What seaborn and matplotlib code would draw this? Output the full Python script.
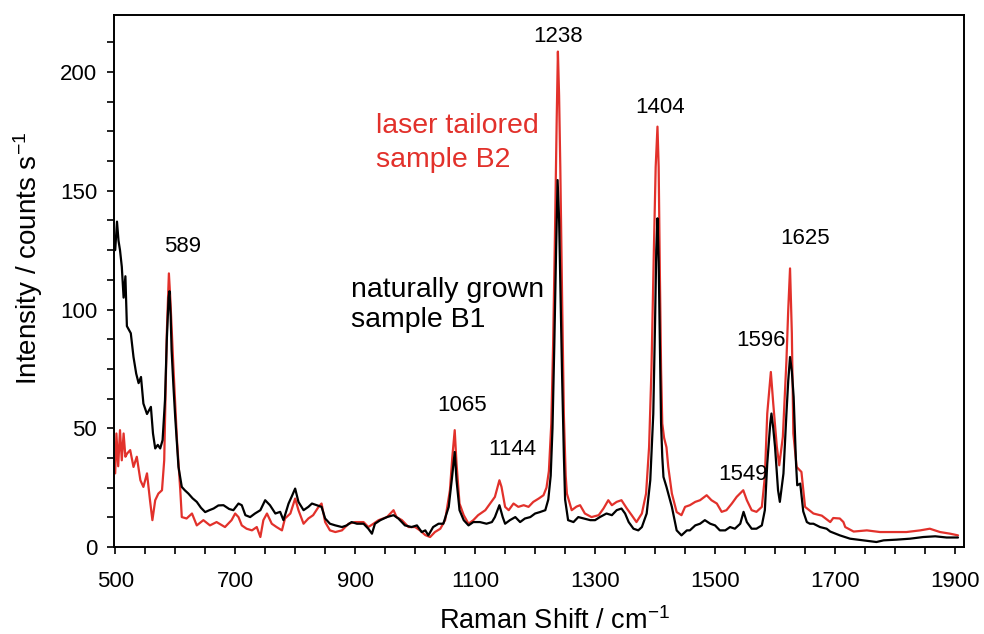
import matplotlib
matplotlib.use("Agg")
import matplotlib.pyplot as plt
from matplotlib.ticker import MultipleLocator, FixedLocator
import seaborn as sns
import pandas as pd

# ---------------- data ----------------
b1_shift = [500, 503, 505.5, 508, 511, 514, 517, 519.5, 526, 530.5, 535, 539, 543, 547, 553, 559.5,
            563, 566.7, 571, 575, 579, 583, 586, 589, 590.5, 592.5, 594, 597, 600, 605.5, 611, 616,
            622, 629, 636, 643, 650, 657, 664, 672, 680.5, 690, 697, 705.5, 711, 717, 725, 733, 742,
            750, 758, 767, 775, 780.5, 789, 794, 800, 805.5, 814, 822, 828, 836, 844, 850, 858, 867,
            878, 886, 894, 903, 914, 922, 928, 933, 942, 953, 964, 972, 983, 994, 1003, 1011, 1017,
            1022, 1030, 1039, 1047, 1056, 1061, 1066, 1069, 1074, 1081, 1089, 1097, 1108, 1119, 1128,
            1133, 1140.5, 1146, 1150, 1158, 1167, 1175, 1183, 1192, 1200, 1208, 1217, 1222, 1226, 1229,
            1232, 1235, 1237.5, 1240, 1242, 1245, 1248, 1250, 1255, 1264, 1272, 1281, 1292, 1300, 1308,
            1319, 1328, 1336, 1344, 1350, 1356, 1364, 1372, 1378, 1386, 1392, 1397, 1400, 1402, 1404,
            1406, 1408, 1410, 1412, 1414, 1419, 1428, 1436, 1444, 1453, 1458, 1467, 1475, 1483, 1492,
            1500, 1508, 1517, 1525, 1533, 1542, 1547.5, 1553, 1561, 1569, 1578, 1583, 1587, 1592, 1594,
            1597, 1600, 1605, 1608, 1614, 1619, 1622, 1625, 1628, 1631, 1635, 1637, 1642, 1647, 1653,
            1658, 1664, 1675, 1686, 1692, 1708, 1725, 1747, 1769, 1781, 1803, 1825, 1847, 1867, 1886,
            1905]
b1_intensity = [125, 137, 129, 125, 118, 105, 114, 93, 90, 80, 73, 69, 71.6, 60.4, 56, 59,
                47.8, 41.5, 43, 41.5, 45, 61.8, 87, 105, 107.7, 97, 83, 68, 54.8, 33.7, 25.3, 23.9,
                22.5, 20.5, 19, 16.5, 14.7, 15.5, 16.2, 17.5, 17.6, 16, 15.5, 18.3, 17.6, 13.4, 12.6, 14.1, 15.5,
                19.7, 17.6, 14.1, 14.8, 11.3, 18.3, 21.1, 24.6, 19, 15.5, 16.9, 18.3, 17.6, 16.9, 12, 9.8, 9.1,
                8.4, 9.1, 10.5, 9.8, 9.8, 7.7, 5.6, 9.8, 11.3, 12.6, 13.4, 12, 9.1, 8.4, 9.1, 6.3, 7,
                4.9, 8.4, 9.8, 9.8, 16.9, 28.1, 40, 28.1, 15.5, 11.3, 9.1, 10.5, 10.5, 9.8, 10.5,
                12.6, 17.6, 12.6, 9.8, 11.3, 12.6, 10.5, 12, 12.6, 14.1, 14.7, 15.5, 20, 30, 50,
                85, 125, 154.5, 138, 112, 72, 38, 20, 11.3, 10.5, 12.6, 12, 11.3, 11.3, 12.6,
                14.1, 13.4, 15.5, 16.2, 14.1, 10.5, 7.7, 7, 8.4, 14.1, 28.1, 56, 95, 125, 138.4,
                120, 85, 52, 38, 29.5, 25.3, 16.9, 7, 4.9, 7, 7, 9.1, 9.8, 11.3, 9.8,
                9.1, 7, 7, 8.4, 7.7, 9.8, 14.8, 10.5, 7.7, 7.7, 9.1, 15.5, 35.1, 52, 56.2,
                50, 42.1, 23.9, 19, 30.9, 56.2, 70, 80, 74, 63.2, 35.1, 26, 26.7, 15, 10.5,
                9.8, 9.8, 8.4, 7.7, 6.5, 4.9, 3.5, 2.8, 2.1, 2.8, 3.1, 3.5, 4.2, 4.5, 4,
                4]

b2_shift = [500, 502, 505, 508, 511, 514, 517, 520, 525, 530.5, 536, 542, 547, 553, 558, 562, 566.7,
            572, 578, 581.7, 586, 589.5, 592, 597, 603, 608.5, 611, 619, 628, 636, 647, 658, 669, 683,
            694, 700, 705.5, 711, 719, 728, 736, 742, 747, 753, 761, 769, 778, 783, 792, 800, 805.5,
            814, 822, 830, 839, 844, 850, 858, 867, 878, 889, 900, 914, 922, 930.5, 939, 953, 964, 969,
            978, 989, 1000, 1008, 1017, 1025, 1033, 1042, 1050, 1058, 1062, 1066, 1069, 1074, 1081,
            1089, 1097, 1105, 1117, 1125, 1133, 1140.5, 1144, 1150, 1156, 1164, 1172, 1181, 1189, 1197,
            1206, 1214, 1219, 1223, 1227, 1230, 1233, 1236, 1238, 1240, 1242, 1245, 1248, 1251, 1253,
            1261, 1269, 1275, 1283, 1294, 1306, 1314, 1322, 1328, 1336, 1344, 1353, 1361, 1369, 1378,
            1385, 1390, 1394, 1398, 1401, 1404, 1406, 1408, 1410, 1412, 1415, 1419, 1422, 1428, 1436,
            1444, 1450, 1458, 1467, 1475, 1486, 1494, 1503, 1511, 1519, 1528, 1536, 1547, 1553, 1561,
            1569, 1578, 1583, 1587, 1593, 1597, 1603, 1607, 1613, 1619, 1622, 1625, 1628, 1630.5, 1636,
            1644, 1650, 1664, 1678, 1692, 1697, 1708, 1714, 1717, 1731, 1753, 1775, 1797, 1819, 1842,
            1858, 1875, 1892, 1905]
b2_intensity = [31, 47.8, 34, 49.2, 36.5, 47.8, 38, 39.4, 40.8, 33.7, 38, 28.1, 25.3, 31, 19.7, 11.3, 19.7,
                22.5, 23.9, 36.5, 89.9, 115.2, 104, 75.9, 45, 23.9, 12.6, 12, 14.1, 9.1, 11.3, 9.1, 10.5, 8.4,
                11.3, 14.1, 12.6, 9.1, 7.7, 7, 8.4, 4.2, 11.3, 14.1, 9.8, 8.4, 7, 12, 14.1, 20.4, 15.5,
                9.8, 12, 13.4, 16.9, 18.3, 10.5, 7, 6.3, 7, 9.8, 10.5, 10.5, 8.4, 9.8, 11.3, 12.6, 15.5, 12.6,
                11.3, 8.4, 8.4, 7, 5, 4.2, 6.3, 7.7, 11.3, 23.9, 37.9, 49.2, 35.1, 18.3, 13.4,
                9.8, 11.3, 13.4, 15.5, 18.3, 21.1, 28.1, 25.3, 16.9, 15.5, 18.3, 16.9, 17.6, 16.9, 19,
                20.4, 21.8, 25, 32, 52, 85, 130, 180, 208.6, 190, 160, 105, 55, 30, 22.5,
                15.5, 17, 17.6, 14.1, 12.6, 13.4, 16.2, 19.7, 17.6, 19, 19.7, 16.2, 13.4, 10.5, 14.1,
                22.5, 42, 75, 125, 160, 177, 160, 115, 75, 52, 46, 42, 33.7, 22.5, 14.7,
                13.4, 16.9, 17.6, 19, 19.7, 21.8, 19.7, 18.3, 14.8, 15.5, 18.3, 21.1, 23.9, 19.7, 15.5,
                14.8, 16.9, 29.5, 56.2, 73.7, 60.4, 42.1, 34.4, 46.4, 78.5, 100, 117.3, 90, 47.8, 33.7,
                31.6, 16.9, 14.1, 13.2, 10.5, 12.2, 12, 10.5, 8.4, 6.5, 7, 6.3, 6.3, 6.3, 7,
                7.7, 6.3, 5.6, 4.9]

peak_labels = ["589", "1065", "1144", "1238", "1404", "1549", "1596", "1625"]
peak_label_x = [611.7, 1077.8, 1162.5, 1238, 1407.8, 1545.8, 1576, 1650]
peak_label_y = [126.4, 59.4, 41.2, 215, 185, 30.6, 86.8, 129.7]

x_ticks = [500, 700, 900, 1100, 1300, 1500, 1700, 1900]
y_ticks = [0, 50, 100, 150, 200]

RED = "#e2312b"

# ---------------- styling ----------------
sns.set_theme(style="ticks")
plt.rcParams["font.family"] = ["Liberation Sans", "DejaVu Sans"]
plt.rcParams["mathtext.fontset"] = "custom"
plt.rcParams["mathtext.rm"] = "Liberation Sans"
plt.rcParams["mathtext.it"] = "Liberation Sans:italic"
plt.rcParams["mathtext.default"] = "regular"
plt.rcParams["text.color"] = "black"
plt.rcParams["axes.labelcolor"] = "black"
plt.rcParams["xtick.color"] = "black"
plt.rcParams["ytick.color"] = "black"

fig = plt.figure(figsize=(9.84, 6.34), dpi=100)
ax = fig.add_axes([114 / 984, 87 / 634, 850 / 984, 532 / 634])

df_b2 = pd.DataFrame({"shift": b2_shift, "intensity": b2_intensity})
df_b1 = pd.DataFrame({"shift": b1_shift, "intensity": b1_intensity})

sns.lineplot(data=df_b2, x="shift", y="intensity", color=RED, linewidth=1.6,
             sort=False, estimator=None, ax=ax, zorder=2)
sns.lineplot(data=df_b1, x="shift", y="intensity", color="black", linewidth=1.6,
             sort=False, estimator=None, ax=ax, zorder=3)

ax.set_xlim(498, 1915)
ax.set_ylim(0, 224)

ax.xaxis.set_major_locator(FixedLocator(x_ticks))
ax.xaxis.set_minor_locator(MultipleLocator(50))
ax.yaxis.set_major_locator(FixedLocator(y_ticks))
ax.yaxis.set_minor_locator(MultipleLocator(12.5))

ax.tick_params(axis="both", which="both", direction="out", top=False, right=False,
               colors="black", labelcolor="black", width=1.2, labelsize=16)
ax.tick_params(axis="both", which="major", length=5.2)
ax.tick_params(axis="both", which="minor", length=5)
ax.tick_params(axis="x", which="major", pad=12)
ax.tick_params(axis="y", which="major", pad=7)

for s in ax.spines.values():
    s.set_visible(True)
    s.set_color("black")
    s.set_linewidth(1.4)

ax.set_xlabel(r"Raman Shift / cm$^{-1}$", fontsize=19.5, color="black")
ax.set_ylabel(r"Intensity / counts s$^{-1}$", fontsize=20, color="black")
ax.xaxis.set_label_coords(0.518, -0.113)
ax.yaxis.set_label_coords(-0.081, 0.543)

for lab, lx, ly in zip(peak_labels, peak_label_x, peak_label_y):
    ax.text(lx, ly, lab, ha="center", va="center", fontsize=16, color="black")

ax.text(935, 174.2, "laser tailored", color=RED, fontsize=20.5, ha="left", va="baseline")
ax.text(935, 160.1, "sample B2", color=RED, fontsize=20.5, ha="left", va="baseline")
ax.text(893, 105.4, "naturally grown", color="black", fontsize=20.5, ha="left", va="baseline")
ax.text(893, 92.7, "sample B1", color="black", fontsize=20.5, ha="left", va="baseline")

fig.savefig("out.png", dpi=100)
